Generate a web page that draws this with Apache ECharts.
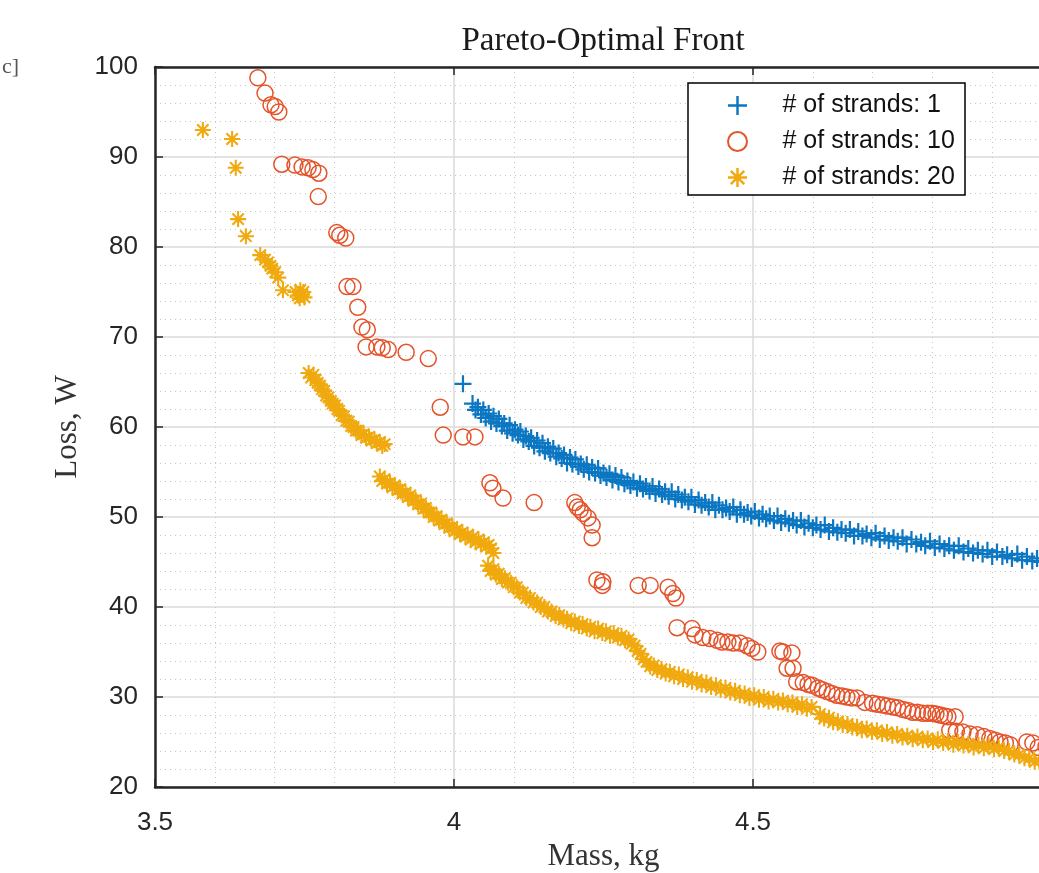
<!DOCTYPE html>
<html>
<head>
<meta charset="utf-8">
<script src="https://cdn.jsdelivr.net/npm/echarts@6/dist/echarts.min.js"></script>
<style>
html,body{margin:0;padding:0;background:#fff;}
#chart{width:1039px;height:873px;}
</style>
</head>
<body>
<div id="chart"></div>
<script>
// ---------- data ----------
const chartTitle = 'Pareto-Optimal Front';
const xAxisName = 'Mass, kg';
const yAxisName = 'Loss, W';
const seriesNames = ['# of strands: 1', '# of strands: 10', '# of strands: 20'];
const xTicks = [3.5, 4, 4.5, 5];
const yTicks = [20, 30, 40, 50, 60, 70, 80, 90, 100];

// # of strands: 1  [mass kg, loss W]
const strands1 = [
[4.015,64.8],
[4.031,62.6],[4.036,61.9],[4.040,62.2],[4.045,61.4],[4.049,61.9],[4.053,61.0],[4.058,61.5],[4.062,60.6],[4.066,61.2],[4.071,60.4],
[4.075,60.9],[4.080,60.1],[4.084,60.4],[4.089,59.6],[4.093,60.2],[4.098,59.3],[4.102,59.7],[4.107,59.1],[4.111,59.5],[4.116,58.6],
[4.120,59.0],[4.125,58.4],[4.129,58.8],[4.134,57.9],[4.139,58.5],[4.143,57.7],[4.148,58.2],[4.152,57.3],[4.157,57.8],[4.161,57.1],
[4.166,57.6],[4.171,56.7],[4.175,57.1],[4.180,56.5],[4.184,56.9],[4.189,56.0],[4.194,56.6],[4.198,55.9],[4.203,56.4],[4.208,55.6],
[4.212,55.9],[4.217,55.3],[4.222,55.8],[4.226,55.0],[4.231,55.5],[4.236,54.9],[4.241,55.4],[4.245,54.6],[4.250,54.9],[4.255,54.4],
[4.260,54.8],[4.265,54.1],[4.270,54.6],[4.275,53.9],[4.280,54.4],[4.285,53.7],[4.290,54.0],[4.295,53.5],[4.300,53.9],[4.306,53.2],
[4.311,53.7],[4.316,53.1],[4.321,53.4],[4.327,52.9],[4.332,53.4],[4.337,52.6],[4.343,53.1],[4.348,52.5],[4.353,52.8],[4.359,52.3],
[4.364,52.8],[4.370,52.0],[4.375,52.5],[4.381,51.9],[4.386,52.2],[4.392,51.7],[4.397,52.2],[4.403,51.4],[4.409,51.9],[4.414,51.3],
[4.420,51.6],[4.426,51.1],[4.432,51.6],[4.437,50.8],[4.443,51.3],[4.449,50.8],[4.455,51.0],[4.461,50.6],[4.467,51.1],[4.473,50.3],
[4.479,50.8],[4.485,50.3],[4.491,50.5],[4.497,50.1],[4.503,50.6],[4.510,49.9],[4.516,50.3],[4.522,49.8],[4.528,50.1],[4.535,49.6],
[4.541,50.1],[4.547,49.4],[4.554,49.8],[4.560,49.3],[4.567,49.6],[4.573,49.1],[4.580,49.6],[4.586,48.9],[4.593,49.3],[4.600,48.8],
[4.606,49.1],[4.613,48.6],[4.620,49.1],[4.627,48.4],[4.634,48.8],[4.641,48.3],[4.648,48.6],[4.655,48.2],[4.662,48.6],[4.669,47.9],
[4.676,48.4],[4.683,47.9],[4.690,48.1],[4.698,47.7],[4.705,48.2],[4.712,47.5],[4.720,47.9],[4.727,47.4],[4.735,47.7],[4.742,47.3],
[4.750,47.7],[4.757,47.0],[4.765,47.5],[4.773,47.0],[4.781,47.2],[4.788,46.8],[4.796,47.3],[4.804,46.6],[4.812,47.0],[4.820,46.5],
[4.828,46.8],[4.836,46.3],[4.844,46.8],[4.852,46.1],[4.860,46.5],[4.868,46.0],[4.876,46.3],[4.884,45.9],[4.892,46.3],[4.900,45.6],
[4.908,46.1],[4.917,45.6],[4.925,45.8],[4.933,45.4],[4.942,45.9],[4.950,45.2],[4.958,45.6],[4.967,45.1],[4.975,45.4],[4.983,45.0],
[4.992,45.4],[5.000,44.8]
];

// # of strands: 10
const strands10 = [
[3.672,98.8],[3.684,97.1],[3.694,95.8],[3.701,95.6],[3.707,95.0],[3.712,89.2],[3.734,89.1],[3.746,88.9],[3.756,88.8],[3.764,88.6],
[3.774,88.2],[3.773,85.6],[3.804,81.6],[3.809,81.3],[3.819,81.0],[3.821,75.6],[3.831,75.6],[3.839,73.3],[3.846,71.1],[3.855,70.8],
[3.853,68.9],[3.871,68.9],[3.880,68.8],[3.890,68.6],[3.920,68.3],[3.957,67.6],[3.977,62.2],[3.982,59.1],[4.015,58.9],[4.035,58.9],
[4.060,53.8],[4.065,53.2],[4.082,52.1],[4.134,51.6],[4.202,51.6],[4.206,51.1],[4.211,50.8],[4.216,50.4],[4.224,49.9],[4.231,49.1],
[4.231,47.7],[4.239,43.0],[4.249,42.8],[4.248,42.4],[4.308,42.4],[4.328,42.4],[4.358,42.2],[4.366,41.5],[4.371,41.0],[4.373,37.7],
[4.398,37.6],[4.403,36.9],[4.416,36.6],[4.428,36.5],[4.440,36.3],[4.448,36.1],[4.458,36.1],[4.467,36.0],[4.478,36.0],[4.490,35.7],
[4.498,35.4],[4.508,35.0],[4.545,35.1],[4.550,35.0],[4.565,34.9],[4.557,33.2],[4.567,33.2],[4.573,31.7],[4.584,31.6],[4.592,31.4],
[4.599,31.3],[4.609,31.0],[4.616,30.8],[4.624,30.6],[4.632,30.4],[4.640,30.2],[4.649,30.1],[4.657,30.0],[4.665,29.9],[4.674,29.9],
[4.687,29.4],[4.700,29.3],[4.708,29.2],[4.717,29.1],[4.725,29.0],[4.734,28.9],[4.742,28.8],[4.751,28.6],[4.759,28.5],[4.767,28.3],
[4.775,28.3],[4.784,28.2],[4.792,28.2],[4.799,28.2],[4.806,28.1],[4.813,28.0],[4.820,27.9],[4.826,27.8],[4.838,27.8],[4.829,26.3],
[4.840,26.2],[4.851,26.1],[4.863,25.9],[4.875,25.8],[4.886,25.6],[4.896,25.4],[4.905,25.2],[4.913,25.0],[4.922,24.9],[4.930,24.7],
[4.958,25.0],[4.968,24.9],[4.977,24.4],[4.990,24.5]
];

// # of strands: 20
const strands20 = [
[3.580,93.0],[3.629,92.0],[3.635,88.8],[3.639,83.1],[3.652,81.2],[3.676,79.1],[3.684,78.6],[3.689,78.3],[3.693,77.9],[3.696,77.6],
[3.701,77.2],[3.706,76.6],[3.714,75.2],[3.735,75.0],[3.739,74.6],[3.743,75.2],[3.746,74.7],[3.750,74.4],[3.748,75.0],[3.742,74.3],
[3.757,66.0],[3.761,65.5],[3.765,65.8],[3.768,65.2],[3.772,64.9],[3.776,64.6],[3.779,64.2],[3.783,64.0],[3.786,63.5],[3.790,63.3],
[3.794,62.9],[3.797,62.6],[3.801,62.4],[3.805,62.0],[3.808,61.8],[3.812,61.3],[3.816,61.2],[3.820,60.7],[3.824,60.6],[3.828,60.1],
[3.832,60.0],[3.836,59.6],[3.840,59.6],[3.845,59.1],[3.849,59.2],[3.853,58.8],[3.858,58.9],[3.862,58.5],[3.867,58.6],[3.871,58.2],
[3.876,58.3],[3.880,57.9],[3.884,58.1],
[3.876,54.5],[3.880,54.0],[3.884,54.2],[3.888,53.7],[3.893,53.8],[3.897,53.3],[3.901,53.5],[3.906,53.0],[3.910,53.1],[3.914,52.6],
[3.919,52.7],[3.923,52.2],[3.927,52.4],[3.932,51.8],[3.936,51.9],[3.940,51.4],[3.945,51.5],[3.949,50.9],[3.953,51.0],[3.958,50.5],
[3.962,50.5],[3.966,50.0],[3.971,50.1],[3.975,49.6],[3.979,49.7],[3.984,49.2],[3.988,49.3],[3.992,48.8],[3.997,48.9],[4.001,48.4],
[4.005,48.6],[4.010,48.1],[4.014,48.3],[4.019,47.8],[4.023,48.0],[4.028,47.5],[4.032,47.8],[4.036,47.2],[4.041,47.5],[4.045,47.0],
[4.050,47.2],[4.054,46.7],[4.058,46.9],[4.062,46.5],[4.066,46.0],
[4.057,44.6],[4.061,44.0],[4.066,44.2],[4.070,43.6],[4.075,43.7],[4.080,43.1],[4.085,43.2],[4.090,42.7],[4.095,42.7],[4.100,42.2],
[4.105,42.2],[4.110,41.6],[4.115,41.6],[4.121,41.0],[4.127,41.0],[4.133,40.5],[4.139,40.5],[4.145,40.0],[4.151,40.0],[4.157,39.5],
[4.163,39.5],[4.170,39.0],[4.176,39.1],[4.183,38.6],[4.189,38.7],[4.196,38.2],[4.202,38.4],[4.209,37.9],[4.215,38.1],[4.222,37.6],
[4.228,37.8],[4.235,37.3],[4.241,37.6],[4.248,37.1],[4.254,37.3],[4.261,36.8],[4.267,37.1],[4.274,36.6],[4.280,36.8],[4.286,36.3],
[4.292,36.4],[4.297,35.9],[4.302,35.7],[4.307,35.1],[4.312,34.8],[4.317,34.2],[4.322,33.9],[4.328,33.4],[4.334,33.5],[4.340,33.0],
[4.347,33.1],[4.354,32.6],[4.361,32.8],[4.368,32.3],[4.376,32.5],[4.383,32.0],[4.391,32.2],[4.398,31.7],[4.406,31.9],[4.414,31.4],
[4.422,31.6],[4.430,31.1],[4.438,31.3],[4.446,30.8],[4.454,31.0],[4.462,30.5],[4.470,30.7],[4.478,30.2],[4.486,30.4],[4.494,29.9],
[4.502,30.2],[4.510,29.7],[4.518,30.0],[4.526,29.5],[4.534,29.8],[4.542,29.4],[4.550,29.6],[4.558,29.2],[4.566,29.4],[4.574,28.9],
[4.582,29.2],[4.590,28.7],[4.598,28.9],
[4.612,28.1],[4.619,27.6],[4.627,27.7],[4.634,27.2],[4.642,27.3],[4.650,26.9],[4.658,27.0],[4.666,26.6],[4.674,26.7],[4.682,26.3],
[4.690,26.5],[4.699,26.1],[4.707,26.3],[4.716,25.9],[4.724,26.1],[4.733,25.7],[4.741,25.9],[4.750,25.5],[4.758,25.7],[4.767,25.3],
[4.775,25.6],[4.784,25.2],[4.792,25.4],[4.801,25.0],[4.809,25.3],[4.818,24.9],[4.826,25.1],[4.835,24.7],[4.843,25.0],[4.852,24.6],
[4.860,24.8],[4.869,24.4],[4.877,24.7],[4.886,24.3],[4.894,24.6],[4.903,24.2],[4.911,24.4],[4.920,24.0],[4.928,24.0],[4.937,23.6],
[4.945,23.6],[4.954,23.2],[4.962,23.2],[4.971,22.8],[4.979,22.9],[4.988,22.5],[4.996,22.6]
];

// ---------- styling ----------
const colors = ['#0B76C2', '#E4532A', '#F0A90E'];
const plusPath = 'path://M4.35,0 L5.65,0 L5.65,4.35 L10,4.35 L10,5.65 L5.65,5.65 L5.65,10 L4.35,10 L4.35,5.65 L0,5.65 L0,4.35 L4.35,4.35 Z';
const starPath = 'path://M0,4.35 L10,4.35 L10,5.65 L0,5.65 Z M4.35,0 L5.65,0 L5.65,10 L4.35,10 Z M1.92,1.0 L9.0,8.08 L8.08,9.0 L1.0,1.92 Z M8.08,1.0 L9.0,1.92 L1.92,9.0 L1.0,8.08 Z';
const tickFont = 'Liberation Sans, Arial, sans-serif';
const serifFont = 'Liberation Serif, Times New Roman, serif';
const axisColor = '#262626';

const chart = echarts.init(document.getElementById('chart'), null, {renderer: 'canvas'});

const xMin = xTicks[0], xMax = xTicks[xTicks.length - 1];
const yMin = yTicks[0], yMax = yTicks[yTicks.length - 1];

const option = {
  backgroundColor: '#ffffff',
  animation: false,
  title: {
    text: chartTitle,
    left: 603, top: 25, textAlign: 'center', padding: 0,
    textStyle: {fontFamily: serifFont, fontSize: 33, fontWeight: 'normal', color: '#1a1a1a'}
  },
  graphic: [{
    type: 'text', left: 2, top: 56,
    style: {text: 'c]', fontFamily: serifFont, fontSize: 22, fill: '#555'}
  }, {
    type: 'rect', z: 3,
    shape: {x: 688, y: 83, width: 277, height: 112},
    style: {fill: '#ffffff', stroke: '#000000', lineWidth: 1.5}
  }],
  legend: {
    left: 727, top: 93, orient: 'vertical', z: 5,
    padding: 0,
    itemGap: 11, itemWidth: 20, itemHeight: 19,
    textStyle: {fontFamily: tickFont, fontSize: 25, color: '#111', padding: [0, 0, 0, 30]},
    data: [
      {name: seriesNames[0], icon: plusPath},
      {name: seriesNames[1], icon: 'circle'},
      {name: seriesNames[2], icon: starPath}
    ]
  },
  grid: {left: 155, right: -13, top: 67, bottom: 86, outerBoundsMode: 'none', containLabel: false},
  xAxis: [{
    type: 'value', min: xMin, max: xMax, interval: 0.5,
    name: xAxisName, nameLocation: 'middle', nameGap: 50,
    nameTextStyle: {fontFamily: serifFont, fontSize: 31, color: '#333'},
    axisLine: {show: true, lineStyle: {color: axisColor, width: 2.5}},
    axisTick: {show: true, inside: true, length: 8, lineStyle: {color: axisColor, width: 1.5}},
    axisLabel: {fontFamily: tickFont, fontSize: 26, color: '#262626', margin: 23},
    splitLine: {show: true, lineStyle: {color: '#dadada', width: 1.5}},
    minorTick: {show: false, splitNumber: 5},
    minorSplitLine: {show: true, lineStyle: {color: '#c8c8c8', width: 1, type: [1, 4]}}
  }, {
    type: 'value', min: xMin, max: xMax, interval: 0.5, position: 'top',
    axisLine: {show: true, lineStyle: {color: axisColor, width: 2.5}},
    axisTick: {show: true, inside: true, length: 8, lineStyle: {color: axisColor, width: 1.5}},
    axisLabel: {show: false}, splitLine: {show: false}
  }],
  yAxis: [{
    type: 'value', min: yMin, max: yMax, interval: 10,
    name: yAxisName, nameLocation: 'middle', nameGap: 71, nameRotate: 90,
    nameTextStyle: {fontFamily: serifFont, fontSize: 31, color: '#333'},
    axisLine: {show: true, lineStyle: {color: axisColor, width: 2.5}},
    axisTick: {show: true, inside: true, length: 8, lineStyle: {color: axisColor, width: 1.5}},
    axisLabel: {fontFamily: tickFont, fontSize: 26, color: '#262626', margin: 17},
    splitLine: {show: true, lineStyle: {color: '#dadada', width: 1.5}},
    minorTick: {show: false, splitNumber: 5},
    minorSplitLine: {show: true, lineStyle: {color: '#c8c8c8', width: 1, type: [1, 4]}}
  }],
  series: [
    {
      name: seriesNames[0], type: 'scatter', data: strands1,
      symbol: plusPath, symbolSize: 17,
      itemStyle: {color: colors[0], opacity: 1},
      emphasis: {disabled: true}
    },
    {
      name: seriesNames[1], type: 'scatter', data: strands10,
      symbol: 'circle', symbolSize: 16,
      itemStyle: {color: 'rgba(0,0,0,0)', borderColor: colors[1], borderWidth: 1.5, opacity: 1},
      emphasis: {disabled: true}
    },
    {
      name: seriesNames[2], type: 'scatter', data: strands20,
      symbol: starPath, symbolSize: 16,
      itemStyle: {color: colors[2], opacity: 1},
      emphasis: {disabled: true}
    }
  ]
};
chart.setOption(option);
</script>
</body>
</html>
